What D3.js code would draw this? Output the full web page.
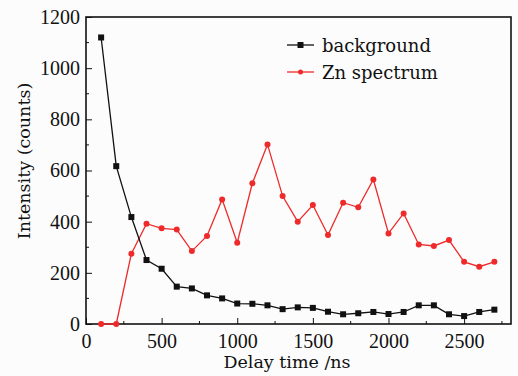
<!DOCTYPE html>
<html>
<head>
<meta charset="utf-8">
<script src="https://cdn.jsdelivr.net/npm/d3@7"></script>
<style>
  body { margin: 0; background: #fcfcfc; }
  svg { display: block; }
</style>
</head>
<body>
<div id="chart"></div>
<script>
// Delay times (ns)
const delayTimes = [100, 200, 300, 400, 500, 600, 700, 800, 900, 1000, 1100, 1200, 1300, 1400,
  1500, 1600, 1700, 1800, 1900, 2000, 2100, 2200, 2300, 2400, 2500, 2600, 2700];
const backgroundCounts = [1120, 617, 418, 250, 216, 146, 139, 112, 100, 80, 79, 73, 58, 65,
  63, 48, 38, 42, 47, 39, 47, 73, 73, 38, 31, 47, 56];
const znCounts = [0, 0, 275, 392, 374, 369, 285, 344, 487, 318, 550, 702, 500, 400,
  465, 348, 474, 456, 565, 354, 432, 311, 305, 328, 243, 224, 243];
const seriesNames = ['background', 'Zn spectrum'];
const xTicks = [0, 500, 1000, 1500, 2000, 2500];
const yTicks = [0, 200, 400, 600, 800, 1000, 1200];

const W = 518, H = 376;
const margin = {top: 17, right: 7, bottom: 52, left: 86},
    width = W - margin.left - margin.right,
    height = H - margin.top - margin.bottom;

const NUM_FONT = '"Liberation Serif", serif';
const TXT_FONT = '"DejaVu Serif", serif';

const x = d3.scaleLinear().domain([0, 2810]).range([0, width]);
const y = d3.scaleLinear().domain([0, 1200]).range([height, 0]);

const svg = d3.select('#chart').append('svg')
    .attr('width', W)
    .attr('height', H);

const g = svg.append('g')
    .attr('transform', 'translate(' + margin.left + ',' + margin.top + ')');

// minor ticks (inward)
const xMinor = d3.range(250, 2810, 500);
const yMinor = d3.range(100, 1200, 200);

g.selectAll('.xminor').data(xMinor).enter().append('line')
    .attr('x1', d => x(d)).attr('x2', d => x(d))
    .attr('y1', height).attr('y2', height - 3)
    .attr('stroke', '#111').attr('stroke-width', 1);
g.selectAll('.yminor').data(yMinor).enter().append('line')
    .attr('x1', 0).attr('x2', 3)
    .attr('y1', d => y(d)).attr('y2', d => y(d))
    .attr('stroke', '#111').attr('stroke-width', 1);

const xAxis = d3.axisBottom(x).tickValues(xTicks).tickFormat(d3.format('d'))
    .tickSizeInner(-6).tickSizeOuter(0).tickPadding(10);
const yAxis = d3.axisLeft(y).tickValues(yTicks).tickFormat(d3.format('d'))
    .tickSizeInner(-6).tickSizeOuter(0).tickPadding(6);

g.append('g')
    .attr('class', 'x axis')
    .attr('transform', 'translate(0,' + height + ')')
    .call(xAxis)
    .attr('font-family', NUM_FONT)
    .attr('font-size', 20);
g.append('g')
    .attr('class', 'y axis')
    .call(yAxis)
    .attr('font-family', NUM_FONT)
    .attr('font-size', 20);

g.selectAll('.axis path').remove();
g.selectAll('.axis line').attr('stroke', '#111').attr('stroke-width', 1);
g.selectAll('.axis text').attr('fill', '#111');

// frame
g.append('rect')
    .attr('x', 0).attr('y', 0)
    .attr('width', width).attr('height', height)
    .attr('fill', 'none')
    .attr('stroke', '#111')
    .attr('stroke-width', 1.6);

const line = d3.line()
    .x(d => x(d[0]))
    .y(d => y(d[1]));

const bgData = delayTimes.map((t, i) => [t, backgroundCounts[i]]);
const znData = delayTimes.map((t, i) => [t, znCounts[i]]);

const RED = '#ee2a2a';

g.append('path').datum(znData)
    .attr('d', line).attr('fill', 'none')
    .attr('stroke', RED).attr('stroke-width', 1.3);
g.selectAll('.zn').data(znData).enter().append('circle')
    .attr('cx', d => x(d[0])).attr('cy', d => y(d[1]))
    .attr('r', 3).attr('fill', RED);

g.append('path').datum(bgData)
    .attr('d', line).attr('fill', 'none')
    .attr('stroke', '#111').attr('stroke-width', 1.3);
g.selectAll('.bg').data(bgData).enter().append('rect')
    .attr('x', d => x(d[0]) - 3).attr('y', d => y(d[1]) - 3)
    .attr('width', 6).attr('height', 6).attr('fill', '#111');

// legend
const legend = svg.append('g').attr('transform', 'translate(287,45)');
const legColors = ['#111', RED];
seriesNames.forEach((name, i) => {
  const row = legend.append('g').attr('transform', 'translate(0,' + (i * 27) + ')');
  row.append('line').attr('x1', 0).attr('x2', 27).attr('y1', 0).attr('y2', 0)
      .attr('stroke', legColors[i]).attr('stroke-width', 1.3);
  if (i === 0) {
    row.append('rect').attr('x', 10.5).attr('y', -3).attr('width', 6).attr('height', 6).attr('fill', legColors[i]);
  } else {
    row.append('circle').attr('cx', 13.5).attr('cy', 0).attr('r', 2.5).attr('fill', legColors[i]);
  }
  row.append('text').attr('x', 35).attr('y', 7)
      .attr('font-family', TXT_FONT)
      .attr('font-size', 18)
      .attr('fill', '#111')
      .text(name);
});

// axis titles
svg.append('text')
    .attr('x', 287).attr('y', 368)
    .attr('text-anchor', 'middle')
    .attr('font-family', TXT_FONT)
    .attr('font-size', 17.5)
    .attr('fill', '#111')
    .text('Delay time /ns');

svg.append('text')
    .attr('transform', 'translate(30,161) rotate(-90)')
    .attr('text-anchor', 'middle')
    .attr('font-family', TXT_FONT)
    .attr('font-size', 17.5)
    .attr('fill', '#111')
    .text('Intensity (counts)');
</script>
</body>
</html>
